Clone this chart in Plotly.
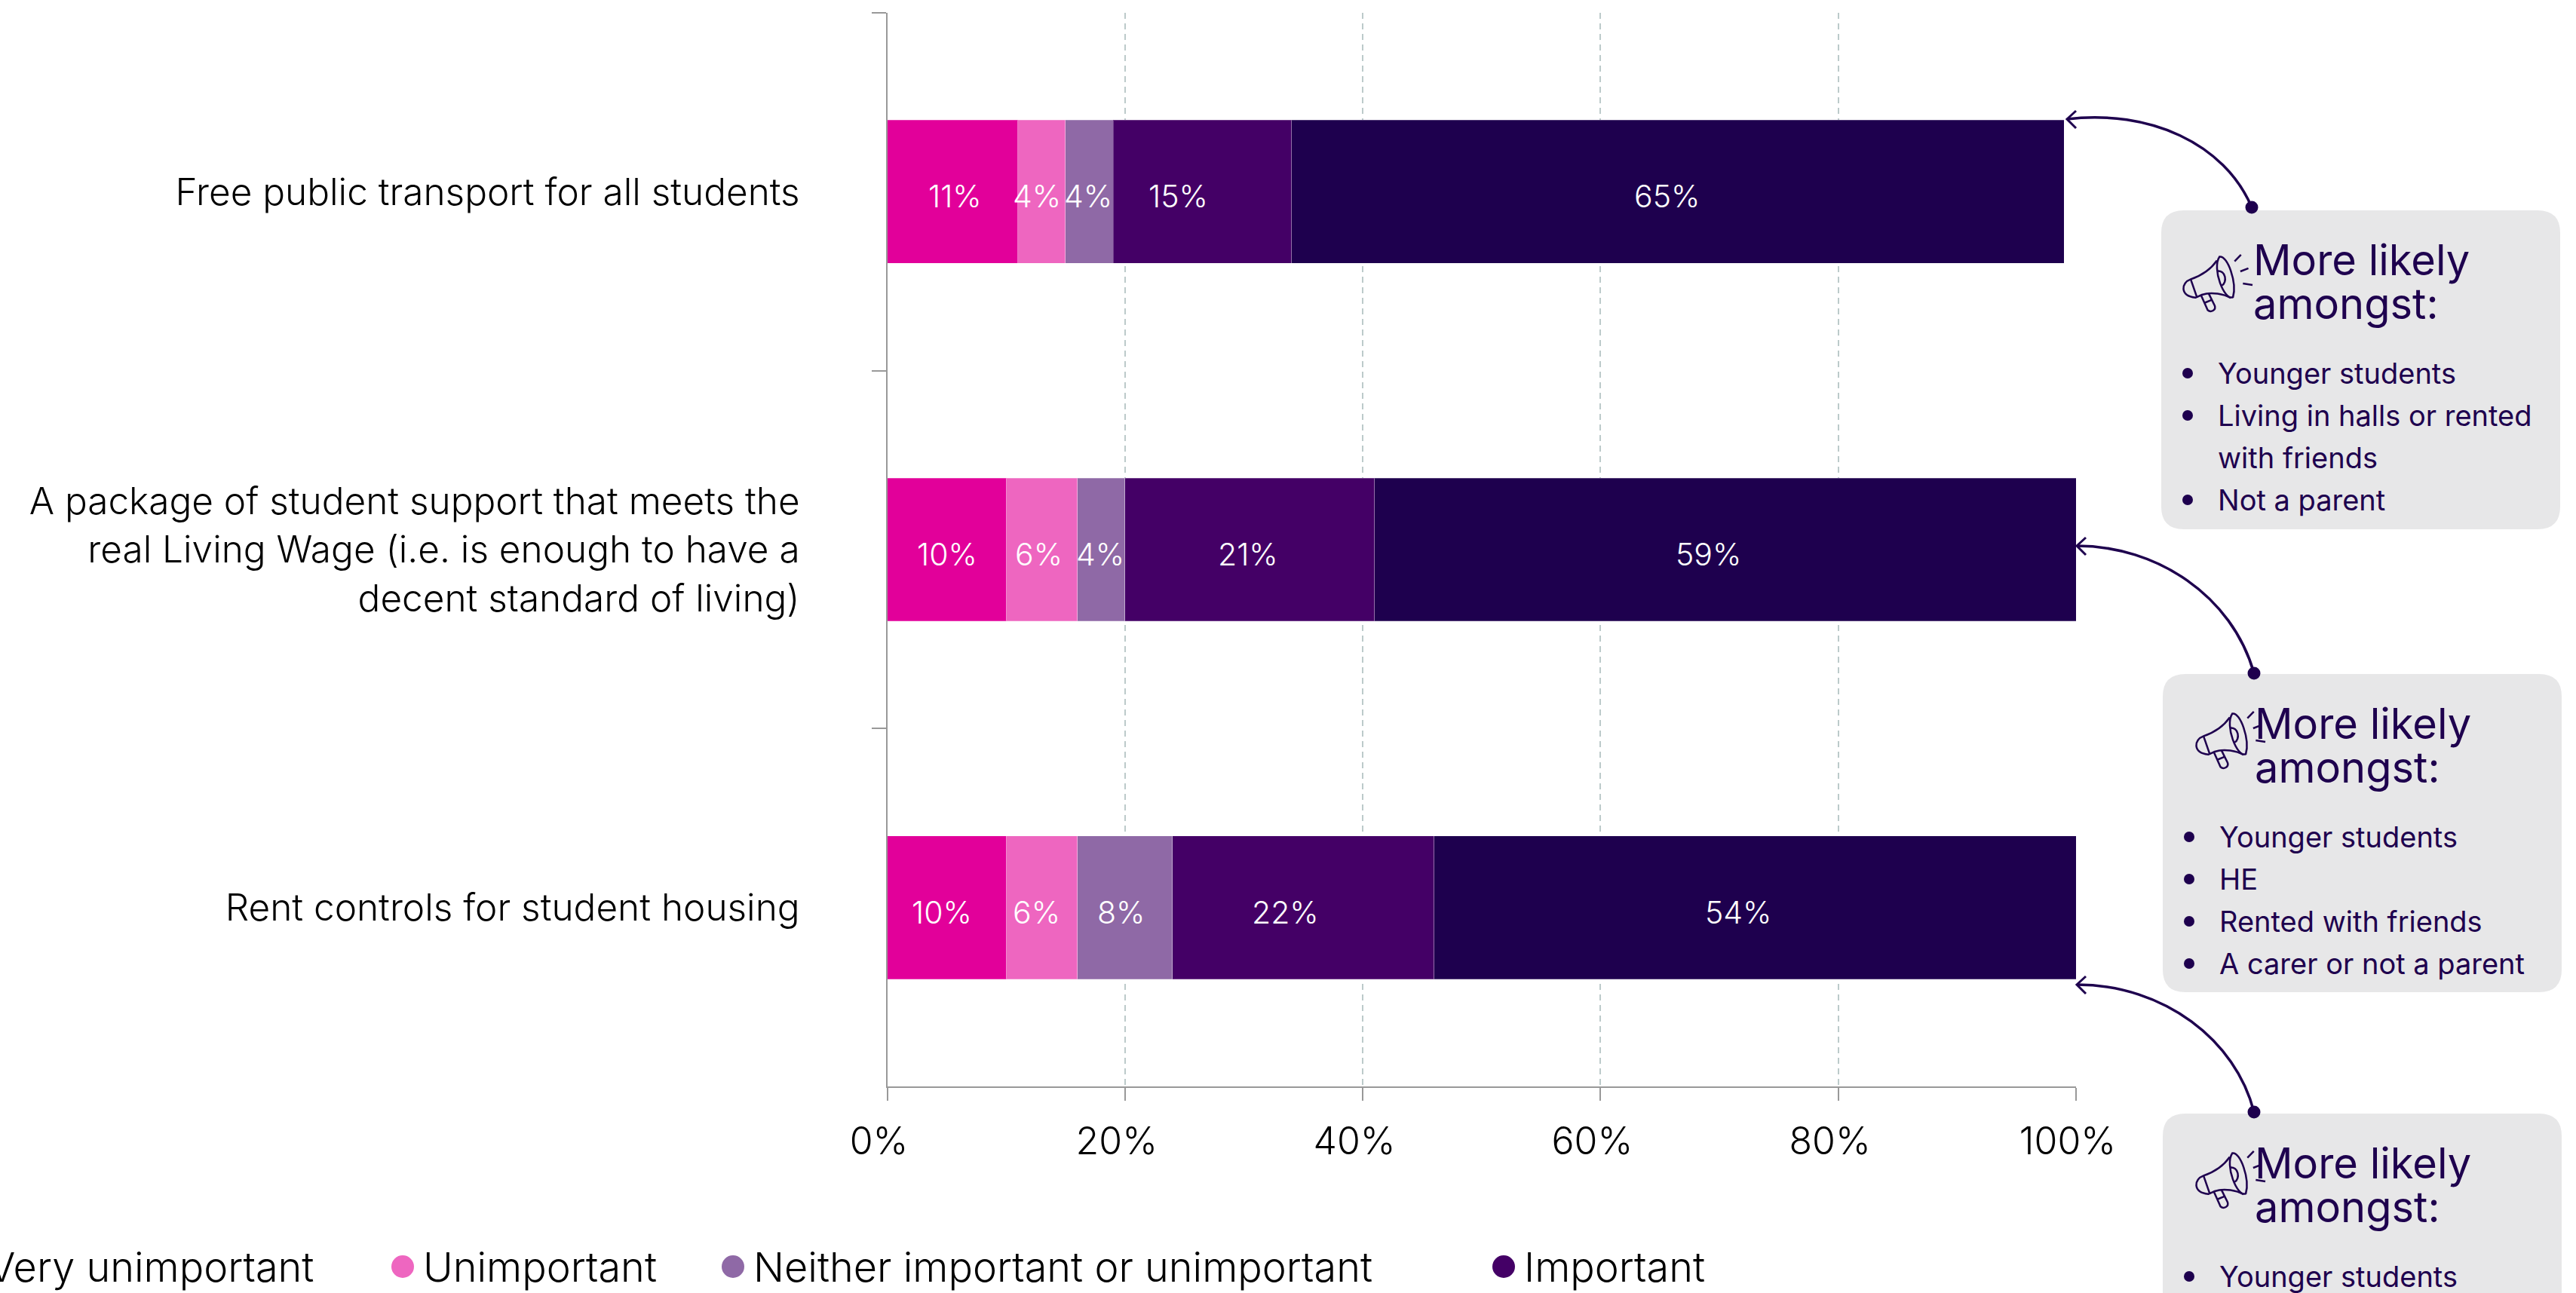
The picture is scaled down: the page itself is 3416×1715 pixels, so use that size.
import plotly.graph_objects as go

W, H = 3416, 1715
FONT = "Inter"
INK = "#1E004E"

categories = [
    "Free public transport for all students",
    "A package of student support that meets the<br>real Living Wage (i.e. is enough to have a<br>decent standard of living)",
    "Rent controls for student housing",
]
series_names = ["Very unimportant", "Unimportant", "Neither important or unimportant", "Important", "Very important"]
very_unimportant = [11, 10, 10]
unimportant = [4, 6, 6]
neither = [4, 4, 8]
important = [15, 21, 22]
very_important = [65, 59, 54]
series_values = [very_unimportant, unimportant, neither, important, very_important]
colors = ["#E2009A", "#EE66C0", "#8F69A6", "#440066", "#1E004E"]
x_ticks = [0, 20, 40, 60, 80, 100]
x_tick_labels = ["0%", "20%", "40%", "60%", "80%", "100%"]

# label nudges (pixels), same shape as the series
label_shift = [
    [3, -6, -2, -32, -14],
    [1, -4, -1, -2, -22],
    [-6, -7, -5, -24, -22],
]

callouts = [
    dict(top=279, bottom=702, left=2866, icon=(0, 0),
         tip=(2741, 158), c1=(2850, 145), c2=(2950, 190), dot=(2986, 275),
         items=[("Younger students", True), ("Living in halls or rented", True), ("with friends", False), ("Not a parent", True)]),
    dict(top=894, bottom=1316, left=2868, icon=(15, -9),
         tip=(2754, 724), c1=(2860, 724), c2=(2960, 790), dot=(2989, 893),
         items=[("Younger students", True), ("HE", True), ("Rented with friends", True), ("A carer or not a parent", True)]),
    dict(top=1477, bottom=1900, left=2868, icon=(15, -9),
         tip=(2754, 1306), c1=(2870, 1306), c2=(2965, 1380), dot=(2989, 1475),
         items=[("Younger students", True)]),
]

px = lambda x: x / W
py = lambda y: 1 - y / H


def path(cmds):
    out = []
    for c in cmds:
        if isinstance(c, str):
            out.append(c)
        else:
            out.append(f"{px(c[0]):.6f},{py(c[1]):.6f}")
    return " ".join(out)


def circle(cx, cy, r, color):
    return dict(type="circle", xref="paper", yref="paper", x0=px(cx - r), x1=px(cx + r),
                y0=py(cy - r), y1=py(cy + r), fillcolor=color, line=dict(width=0), layer="above")


def text(x, y, s, size, color=INK, anchor="left", weight=400):
    return dict(xref="paper", yref="paper", x=px(x), y=py(y), text=s, showarrow=False,
                xanchor=anchor, yanchor="middle", align=anchor,
                font=dict(family=FONT, size=size, color=color, weight=weight))


fig = go.Figure()
for name, vals, col in zip(series_names, series_values, colors):
    fig.add_trace(go.Bar(y=categories, x=vals, name=name, orientation="h",
                         marker=dict(color=col, line=dict(color="rgba(255,255,255,0.25)", width=1)),
                         showlegend=False, hoverinfo="skip"))

shapes, annots = [], []

# value labels
for r, cat in enumerate(categories):
    cum = 0
    for s, vals in enumerate(series_values):
        v = vals[r]
        annots.append(dict(x=cum + v / 2, y=cat, xref="x", yref="y", text=f"{v}%", showarrow=False,
                           xshift=label_shift[r][s], yshift=-6,
                           font=dict(family=FONT, size=41, color="white", weight=300)))
        cum += v

# legend row, clipped at the page edge as in the source
LEG_Y = 1680
LEG_SIZE = 54
annots.append(text(418, LEG_Y, series_names[0], LEG_SIZE, color="#000000", weight=300, anchor="right"))
for name, col, mx, tx in [(series_names[1], colors[1], 534, 559),
                          (series_names[2], colors[2], 972, 997), (series_names[3], colors[3], 1994, 2019)]:
    shapes.append(circle(mx, LEG_Y, 15, col))
    annots.append(text(tx, LEG_Y, name, LEG_SIZE, color="#000000", weight=300))

ICON = [
    ["M", (455, 550), "C", (480, 545), (510, 640), (497, 690), "C", (470, 705), (430, 590), (455, 550), "Z"],
    ["M", (447, 563), "C", (430, 590), (400, 615), (365, 628), "C", (335, 640), (330, 685), (380, 692),
     "L", (400, 682), "C", (430, 670), (470, 680), (490, 693)],
    ["M", (365, 628), "L", (385, 692)],
    ["M", (447, 600), "C", (475, 595), (480, 640), (462, 650)],
    ["M", (398, 685), "L", (418, 735), "C", (428, 745), (445, 735), (440, 720), "L", (420, 675)],
    ["M", (408, 710), "L", (430, 700)],
    ["M", (502, 566), "L", (522, 543)],
    ["M", (520, 601), "L", (545, 590)],
    ["M", (528, 643), "L", (558, 648)],
]

for c in callouts:
    L, T, B = c["left"], c["top"], c["bottom"]
    R_ = L + 529
    rad = 30
    shapes.append(dict(type="path", xref="paper", yref="paper", layer="below", fillcolor="#E7E7E8", line=dict(width=0),
                       path=path(["M", (L + rad, T), "L", (R_ - rad, T), "Q", (R_, T), (R_, T + rad),
                                  "L", (R_, B - rad), "Q", (R_, B), (R_ - rad, B),
                                  "L", (L + rad, B), "Q", (L, B), (L, B - rad),
                                  "L", (L, T + rad), "Q", (L, T), (L + rad, T), "Z"])))
    shapes.append(dict(type="path", xref="paper", yref="paper", layer="above", line=dict(color=INK, width=3.5),
                       path=path(["M", c["tip"], "C", c["c1"], c["c2"], c["dot"]])))
    tx, ty = c["tip"]
    shapes.append(dict(type="path", xref="paper", yref="paper", layer="above", line=dict(color=INK, width=3),
                       path=path(["M", (tx + 12, ty - 11), "L", (tx, ty), "L", (tx + 12, ty + 12)])))
    shapes.append(circle(c["dot"][0], c["dot"][1], 8.5, INK))

    ox, oy = c["icon"]
    bx, by = L - 2866, T - 279
    for seg in ICON:
        cm = []
        for p in seg:
            cm.append(p if isinstance(p, str) else
                      (2750 + p[0] / 2.354 + bx + ox, 130 + p[1] / 2.613 + by + oy))
        shapes.append(dict(type="path", xref="paper", yref="paper", layer="above",
                           line=dict(color=INK, width=2.5), path=path(cm)))

    annots.append(text(L + 120, T + 66, "More likely", 56))
    annots.append(text(L + 120, T + 124, "amongst:", 56))
    for i, (item, bullet) in enumerate(c["items"]):
        y = T + 216 + i * 56
        annots.append(text(L + 73, y, item, 38))
        if bullet:
            shapes.append(circle(L + 35, y, 7, INK))

fig.update_layout(
    width=W, height=H, margin=dict(l=0, r=0, t=0, b=0, autoexpand=False), autosize=False,
    paper_bgcolor="white", plot_bgcolor="white", barmode="stack", bargap=0.6,
    shapes=shapes, annotations=annots,
    font=dict(family=FONT),
    xaxis=dict(domain=[1176.5 / W, 2753 / W], range=[0, 100], tickvals=x_ticks, ticktext=x_tick_labels,
               anchor="y", showline=True, linecolor="#999999", linewidth=2,
               ticks="outside", ticklen=17, tickcolor="#999999", tickwidth=2,
               ticklabelshift=-11, ticklabelstandoff=11,
               tickfont=dict(family=FONT, size=50, color="#000000", weight=300),
               showgrid=True, gridcolor="#BCCACA", gridwidth=2, griddash="8px,6px", zeroline=False),
    yaxis=dict(domain=[1 - 1441 / H, 1 - 17 / H], range=[2.5, -0.5], type="category",
               categoryorder="array", categoryarray=categories,
               anchor="x", showline=True, linecolor="#999999", linewidth=2,
               ticks="outside", ticklen=19, tickcolor="#999999", tickwidth=2, tickson="boundaries",
               ticklabelstandoff=104,
               tickfont=dict(family=FONT, size=49.5, color="#000000", weight=300),
               showgrid=False, zeroline=False),
)

fig.write_html("out.html", post_script="document.body.style.margin='0';",
               config=dict(displayModeBar=False))
